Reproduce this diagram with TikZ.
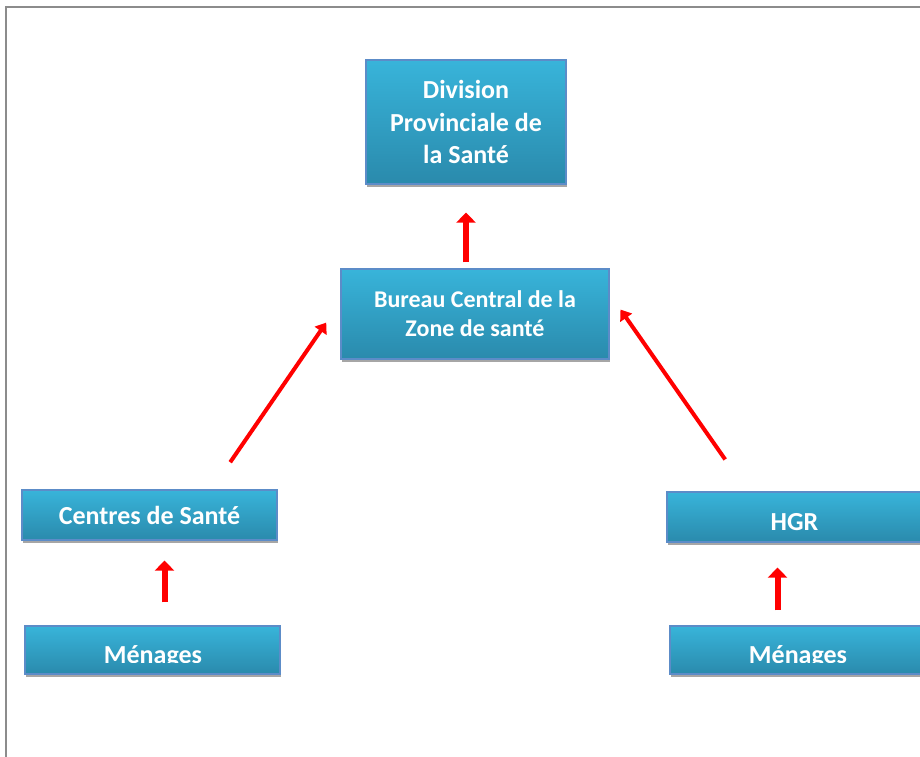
\documentclass[tikz,border=0pt]{standalone}
\usepackage{fontspec}
\setmainfont{Carlito}
\usetikzlibrary{arrows.meta,shadows}
\definecolor{topcyan}{RGB}{56,180,218}
\definecolor{botcyan}{RGB}{42,138,172}
\definecolor{edgeblue}{RGB}{92,140,200}
\definecolor{framegray}{RGB}{140,140,140}
\tikzset{
  boxnode/.style={draw=edgeblue, line width=1.2pt, top color=topcyan, bottom color=botcyan,
    text=white, font=\fontsize{26}{30}\selectfont\bfseries, align=center, inner sep=0pt,
    drop shadow={shadow xshift=1pt, shadow yshift=-3pt, fill=black!35, opacity=1}},
  boxtext/.style={text=white, font=\fontsize{26}{30}\selectfont\bfseries, inner sep=0pt},
  uparrow/.style={draw=red, line width=6pt, -{Triangle[width=19pt,length=10pt]}},
  slantarrow/.style={draw=red, line width=4pt, -{Triangle[width=14pt,length=10pt]}}
}
\begin{document}
\begin{tikzpicture}[x=1pt, y=-1pt]
    \useasboundingbox (0,0) rectangle (920,756);
    \clip (0,0) rectangle (920,756);
    \fill[white] (0,0) rectangle (920,756);
    \draw[framegray, line width=2pt] (6,7) rectangle (940,780);

    \node[boxnode, minimum width=200pt, minimum height=124pt,
      font=\fontsize{26}{32.5}\selectfont\bfseries] (div) at (466,122)
      {Division\\Provinciale de\\la Santé};
    \node[boxnode, minimum width=268pt, minimum height=90pt,
      font=\fontsize{24}{29}\selectfont\bfseries] (bcz) at (475,314)
      {Bureau Central de la\\Zone de santé};
    \node[boxnode, minimum width=255pt, minimum height=50pt] (cs) at (149.5,515) {Centres de Santé};
    \node[boxnode, minimum width=255pt, minimum height=50pt,
      text height=27pt, text depth=0pt] (hgr) at (794.5,517) {HGR};
    \node[boxnode, minimum width=255pt, minimum height=48pt] (men1) at (152.5,650) {};
    \node[boxnode, minimum width=255pt, minimum height=48pt] (men2) at (797.5,650) {};

    \begin{scope}
      \clip (20,620) rectangle (920,662);
      \node[boxtext, anchor=base] (men1t) at (153,663) {Ménages};
      \node[boxtext, anchor=base] (men2t) at (798,663) {Ménages};
    \end{scope}

    \draw[uparrow, shorten <=6pt, shorten >=28pt] (div.south |- bcz.north) -- (div.south);
    \draw[slantarrow, shorten <=33pt, shorten >=25pt] ([xshift=62pt]cs.north) -- ([yshift=12pt]bcz.west);
    \draw[slantarrow, shorten <=39pt, shorten >=19pt] ([xshift=-47pt]hgr.north) -- ([yshift=20pt]bcz.east);
    \draw[uparrow, shorten <=23pt, shorten >=20pt] ([xshift=12pt]men1.north) -- ([xshift=12pt]men1.north |- cs.south);
    \draw[uparrow, shorten <=15pt, shorten >=25pt] ([xshift=-20pt]men2.north) -- ([xshift=-20pt]men2.north |- hgr.south);
\end{tikzpicture}
\end{document}
